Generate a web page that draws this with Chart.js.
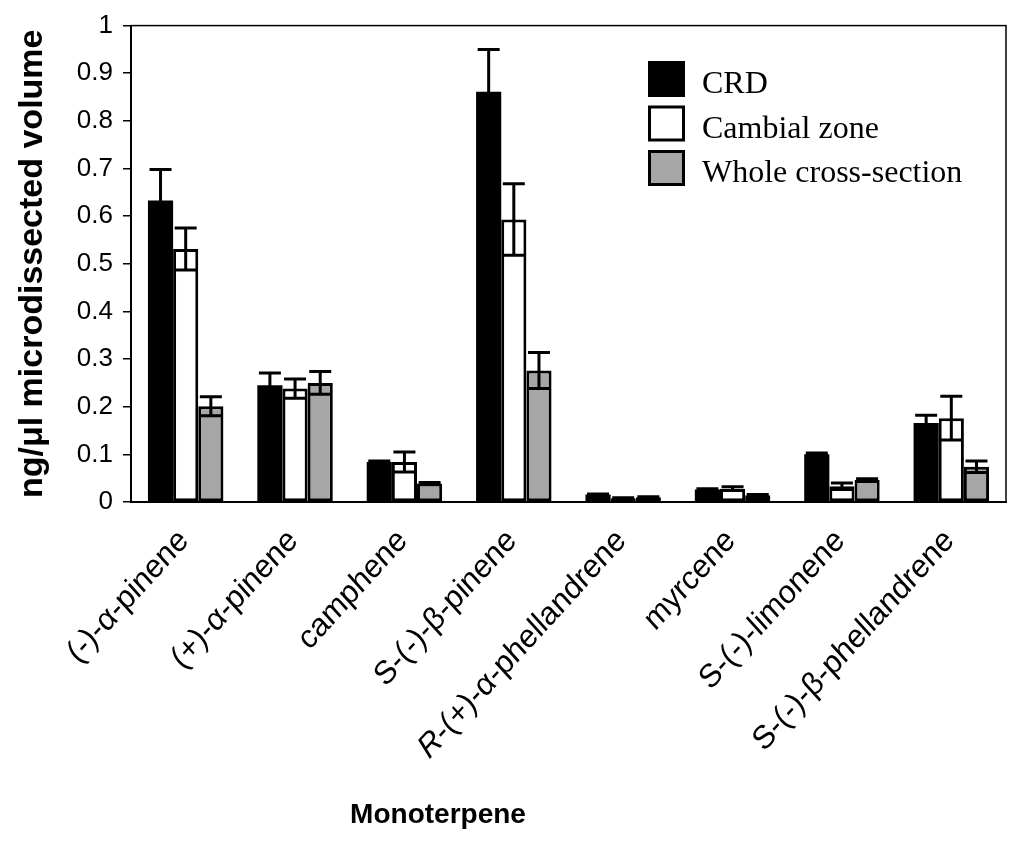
<!DOCTYPE html>
<html>
<head>
<meta charset="utf-8">
<title>Monoterpene concentrations</title>
<script src="https://cdn.jsdelivr.net/npm/chart.js@4.4.1/dist/chart.umd.min.js"></script>
<style>
  html, body { margin: 0; padding: 0; background: #fff; }
  #wrap { width: 1027px; height: 845px; position: relative; }
</style>
</head>
<body>
<div id="wrap"><canvas id="monoChart"></canvas></div>
<script>
// values (ng/ul microdissected volume)
var categories = ['(-)-\u03b1-pinene', '(+)-\u03b1-pinene', 'camphene', 'S-(-)-\u03b2-pinene',
  'R-(+)-\u03b1-phellandrene', 'myrcene', 'S-(-)-limonene', 'S-(-)-\u03b2-phellandrene'];
var seriesNames = ['CRD', 'Cambial zone', 'Whole cross-section'];

var crdValues     = [0.633, 0.245, 0.084, 0.861, 0.016, 0.026, 0.100, 0.166];
var crdErrors     = [0.065, 0.026, 0.002, 0.089, 0.001, 0.002, 0.003, 0.016];
var cambialValues = [0.531, 0.238, 0.084, 0.593, 0.008, 0.028, 0.033, 0.176];
var cambialErrors = [0.044, 0.020, 0.021, 0.075, 0.001, 0.004, 0.007, 0.046];
var wholeValues   = [0.201, 0.250, 0.039, 0.276, 0.010, 0.014, 0.046, 0.074];
var wholeErrors   = [0.020, 0.024, 0.002, 0.038, 0.001, 0.002, 0.003, 0.012];

var yTickLabels = ['0', '0.1', '0.2', '0.3', '0.4', '0.5', '0.6', '0.7', '0.8', '0.9', '1'];
var xTitle = 'Monoterpene';
var yTitle = 'ng/\u03bcl microdissected volume';

var sansFont = '"Liberation Sans", Arial, sans-serif';
var serifFont = '"Liberation Serif", "Times New Roman", serif';

// error bars, frame, x labels, x title and legend drawn on top
var decorPlugin = {
  id: 'decor',
  afterDatasetsDraw(chart) {
    var ctx = chart.ctx;
    var yScale = chart.scales.y;
    ctx.save();
    ctx.strokeStyle = '#000';
    ctx.lineWidth = 3;
    chart.data.datasets.forEach((ds, di) => {
      var meta = chart.getDatasetMeta(di);
      meta.data.forEach((bar, i) => {
        var v = ds.data[i], e = ds.errors[i];
        var yTop = yScale.getPixelForValue(v + e);
        var yBot = yScale.getPixelForValue(Math.max(v - e, 0));
        var half = 11;
        ctx.beginPath();
        ctx.moveTo(bar.x, yBot); ctx.lineTo(bar.x, yTop);
        ctx.moveTo(bar.x - half, yTop); ctx.lineTo(bar.x + half, yTop);
        ctx.moveTo(bar.x - half, yBot); ctx.lineTo(bar.x + half, yBot);
        ctx.stroke();
      });
    });
    ctx.restore();
  },
  afterDraw(chart) {
    var ctx = chart.ctx;
    var area = chart.chartArea;
    var xScale = chart.scales.x;
    ctx.save();

    // frame round the plot
    ctx.strokeStyle = '#000';
    ctx.lineWidth = 1.5;
    ctx.strokeRect(area.left, area.top, area.right - area.left, area.bottom - area.top);

    // rotated category labels, italic R for the R- prefix
    ctx.fillStyle = '#000';
    ctx.textBaseline = 'alphabetic';
    ctx.textAlign = 'left';
    categories.forEach((lab, i) => {
      var parts = lab.indexOf('R-') === 0
        ? [{t: 'R', f: 'italic 30px ' + sansFont}, {t: lab.slice(1), f: '30px ' + sansFont}]
        : [{t: lab, f: '30px ' + sansFont}];
      var total = 0;
      parts.forEach(p => { ctx.font = p.f; p.w = ctx.measureText(p.t).width; total += p.w; });
      var cx = xScale.getPixelForValue(i);
      ctx.save();
      ctx.translate(cx + 4, area.bottom + 40);
      ctx.scale(1, 1.1); // the figure is a little taller than wide
      ctx.rotate(-Math.PI / 4);
      var x = -total;
      parts.forEach(p => { ctx.font = p.f; ctx.fillText(p.t, x, 0); x += p.w; });
      ctx.restore();
    });

    // x axis title
    ctx.font = 'bold 28px ' + sansFont;
    ctx.textAlign = 'center';
    ctx.fillText(xTitle, 438, 823);

    // legend inside the plot, top right
    ctx.textAlign = 'left';
    ctx.font = '32px ' + serifFont;
    chart.data.datasets.forEach((ds, di) => {
      var by = 61 + di * 44.5;
      ctx.fillStyle = ds.backgroundColor;
      ctx.fillRect(648, by, 37, 36);
      ctx.lineWidth = 3;
      ctx.strokeStyle = '#000';
      ctx.strokeRect(649.5, by + 1.5, 34, 33);
      ctx.fillStyle = '#000';
      ctx.fillText(ds.label, 702, by + 32);
    });
    ctx.restore();
  }
};

var ctxMono = document.getElementById('monoChart').getContext('2d');

var monoChart = new Chart(ctxMono, {
  type: 'bar',
  data: {
    labels: categories,
    datasets: [{
      label: seriesNames[0],
      data: crdValues,
      errors: crdErrors,
      backgroundColor: '#000000',
      borderColor: '#000000',
      borderWidth: 0
    }, {
      label: seriesNames[1],
      data: cambialValues,
      errors: cambialErrors,
      backgroundColor: '#ffffff',
      borderColor: '#000000',
      borderWidth: 3,
      borderSkipped: false
    }, {
      label: seriesNames[2],
      data: wholeValues,
      errors: wholeErrors,
      backgroundColor: '#a6a6a6',
      borderColor: '#000000',
      borderWidth: 3,
      borderSkipped: false
    }]
  },
  options: {
    responsive: true,
    maintainAspectRatio: false,
    animation: false,
    layout: { padding: { left: 0, right: 21, top: 24, bottom: 0 } },
    datasets: { bar: { barPercentage: 1, categoryPercentage: 0.69 } },
    plugins: {
      legend: { display: false },
      tooltip: { enabled: false }
    },
    scales: {
      x: {
        ticks: { display: false },
        grid: { display: false },
        border: { display: true, color: '#000', width: 2 },
        afterFit: (s) => { s.height = 343; }
      },
      y: {
        min: 0,
        max: 1,
        ticks: {
          stepSize: 0.1,
          color: '#000',
          padding: 10,
          font: { family: sansFont, size: 26 },
          callback: (v) => yTickLabels[Math.round(v * 10)]
        },
        grid: { display: true, drawOnChartArea: false, drawTicks: true, tickLength: 8, color: '#000', lineWidth: 1.5 },
        border: { display: true, color: '#000', width: 2 },
        title: {
          display: true,
          text: yTitle,
          color: '#000',
          font: { family: sansFont, size: 34, weight: 'bold' },
          padding: { top: 12, bottom: 0 }
        },
        afterFit: (s) => { s.width = 131; }
      }
    }
  },
  plugins: [decorPlugin]
});
</script>
</body>
</html>
